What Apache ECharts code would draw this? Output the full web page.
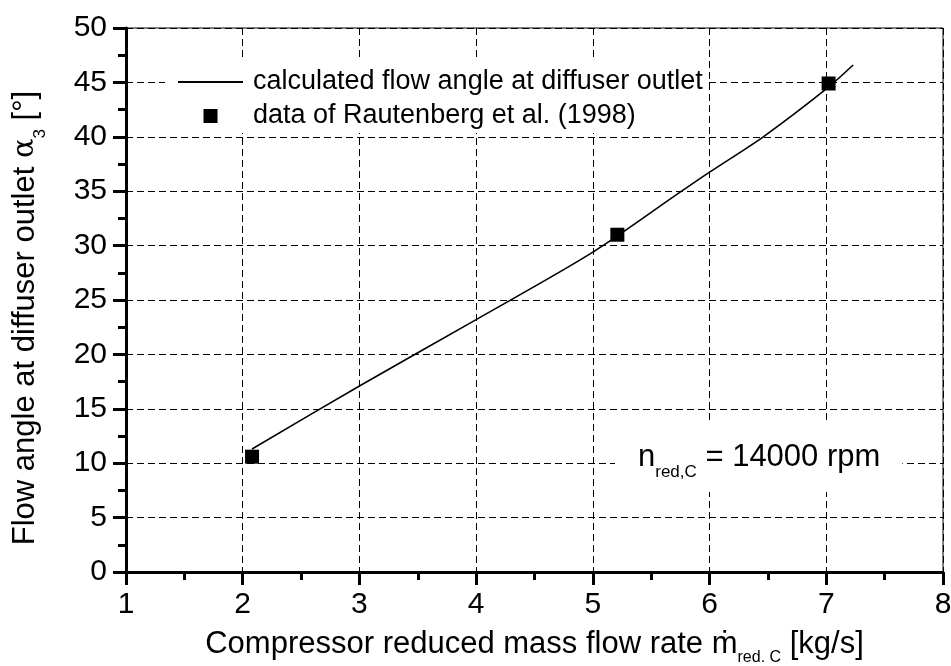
<!DOCTYPE html>
<html>
<head>
<meta charset="utf-8">
<script src="https://cdn.jsdelivr.net/npm/echarts@6/dist/echarts.min.js"></script>
<style>
  html, body { margin: 0; padding: 0; background: #fff; }
  #chart { width: 951px; height: 666px; }
</style>
</head>
<body>
<div id="chart"></div>
<script>
// calculated curve
var calcX = [2.08, 3.0, 4.0, 5.0, 5.76, 6.0, 6.46, 7.0, 7.23];
var calcY = [11.3, 17.1, 23.2, 29.4, 35.0, 36.75, 40.0, 44.4, 46.6];
// measured points
var dataX = [2.08, 5.21, 7.02];
var dataY = [10.6, 31.0, 44.9];

var seriesNames = ['calculated flow angle at diffuser outlet', 'data of Rautenberg et al. (1998)'];

var FONT = "'Liberation Sans', Arial, sans-serif";

var chart = echarts.init(document.getElementById('chart'));

var zip = (xs, ys) => xs.map((x, i) => [x, ys[i]]);

var gridLine = { show: true, lineStyle: { color: '#000', width: 1, type: [7, 4] } };

var option = {
    backgroundColor: '#fff',
    animation: false,
    grid: {
        left: 126, right: 8, top: 28, bottom: 94,
        outerBoundsMode: 'none',
        show: true, borderColor: '#000', borderWidth: 1
    },
    legend: {
        orient: 'vertical',
        left: 165, top: 60,
        padding: [7, 5, 2, 12],
        backgroundColor: '#fff',
        itemWidth: 65, itemHeight: 14, itemGap: 4,
        selectedMode: false,
        textStyle: { fontFamily: FONT, fontSize: 27, color: '#000', lineHeight: 30, padding: [0, 0, 0, 5] },
        data: [
            // line sample only, hide the default symbol
            { name: seriesNames[0], itemStyle: { opacity: 0 } },
            { name: seriesNames[1], icon: 'path://M0 0H10V10H0Z' }
        ]
    },
    xAxis: {
        type: 'value', min: 1, max: 8, interval: 1,
        name: '{m|Compressor reduced mass flow rate ṁ}{s|red. C}{m| [kg/s]}',
        nameLocation: 'middle', nameGap: 50,
        nameTextStyle: {
            rich: {
                m: { fontFamily: FONT, fontSize: 31, color: '#000', lineHeight: 44, verticalAlign: 'middle' },
                s: { fontFamily: FONT, fontSize: 16, color: '#000', lineHeight: 16, verticalAlign: 'bottom' }
            }
        },
        axisLine: { show: true, lineStyle: { color: '#000', width: 3 } },
        axisTick: { show: true, length: 13, lineStyle: { color: '#000', width: 3 } },
        minorTick: { show: true, splitNumber: 2, length: 8, lineStyle: { color: '#000', width: 3 } },
        axisLabel: { fontFamily: FONT, fontSize: 30, color: '#000', margin: 18 },
        splitLine: gridLine
    },
    yAxis: {
        type: 'value', min: 0, max: 50, interval: 5,
        name: '{m|Flow angle at diffuser outlet }{g|α}{s|3}{m| [°]}',
        nameLocation: 'middle', nameGap: 77,
        nameTextStyle: {
            padding: [0, 36, 0, 0],
            rich: {
                m: { fontFamily: FONT, fontSize: 31, color: '#000', lineHeight: 48, verticalAlign: 'middle' },
                g: { fontFamily: "'DejaVu Serif', serif", fontSize: 29, color: '#000', lineHeight: 48, verticalAlign: 'middle' },
                s: { fontFamily: FONT, fontSize: 17, color: '#000', lineHeight: 16, verticalAlign: 'bottom' }
            }
        },
        axisLine: { show: true, lineStyle: { color: '#000', width: 3 } },
        axisTick: { show: true, length: 13, lineStyle: { color: '#000', width: 3 } },
        minorTick: { show: true, splitNumber: 2, length: 8, lineStyle: { color: '#000', width: 3 } },
        axisLabel: { fontFamily: FONT, fontSize: 30, color: '#000', margin: 19 },
        splitLine: gridLine
    },
    series: [
        {
            name: seriesNames[0],
            type: 'line',
            symbol: 'none',
            smooth: 0.3,
            lineStyle: { color: '#000', width: 1.6 },
            itemStyle: { color: '#000' },
            data: zip(calcX, calcY),
            z: 3
        },
        {
            name: seriesNames[1],
            type: 'scatter',
            symbol: 'rect',
            symbolSize: 14,
            itemStyle: { color: '#000', opacity: 1 },
            data: zip(dataX, dataY),
            z: 4
        }
    ],
    graphic: [{
        type: 'text',
        left: 615, top: 423, z: 100,
        style: {
            text: '{m|n}{s|red,C}{m| = 14000 rpm}',
            backgroundColor: '#fff',
            padding: [10, 22, 11, 23],
            rich: {
                m: { fontFamily: FONT, fontSize: 31, fill: '#000', lineHeight: 48, verticalAlign: 'middle' },
                s: { fontFamily: FONT, fontSize: 17, fill: '#000', lineHeight: 16, verticalAlign: 'bottom' }
            }
        }
    }]
};

chart.setOption(option);
</script>
</body>
</html>
